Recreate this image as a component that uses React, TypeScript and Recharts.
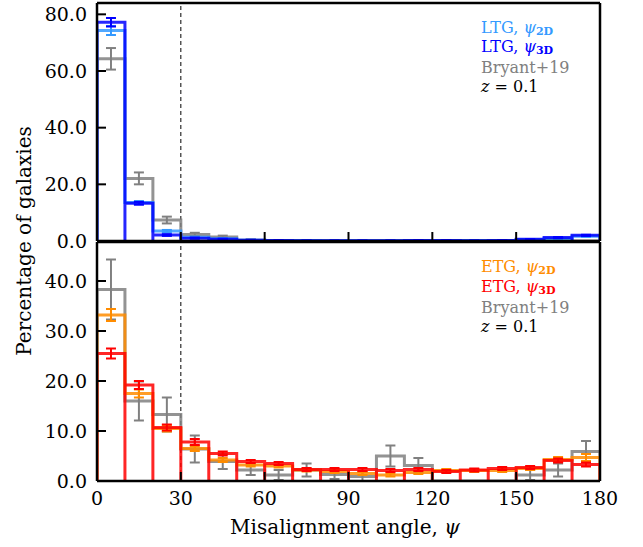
import { ComposedChart, Line, Scatter, ErrorBar, XAxis, YAxis, ReferenceLine } from 'recharts';

// bins of 10 degrees, 0-180
const BIN_STARTS = [0, 10, 20, 30, 40, 50, 60, 70, 80, 90, 100, 110, 120, 130, 140, 150, 160, 170];
const BIN_WIDTH = 10;
const X_TICKS = [0, 30, 60, 90, 120, 150, 180];
const TOP_Y_TICKS = [0, 20, 40, 60, 80];
const BOTTOM_Y_TICKS = [0, 10, 20, 30, 40];
const THRESHOLD = 30;

// LTG (top panel)
const ltg2d = [74.3, 13.6, 3.5, 1.3, 0.8, 0.3, 0.2, 0.2, 0.1, 0.1, 0.1, 0.2, 0.2, 0.2, 0.2, 0.5, 0.9, 1.7];
const ltg2dErr = [1.6, 0.5, 0.4, 0.2, 0.2, 0.1, 0.1, 0.1, 0.1, 0.1, 0.1, 0.1, 0.1, 0.1, 0.1, 0.1, 0.2, 0.2];
const ltg3d = [77.2, 13.3, 2.1, 1.0, 0.6, 0.3, 0.2, 0.1, 0.1, 0.1, 0.1, 0.2, 0.2, 0.1, 0.2, 0.6, 1.2, 2.0];
const ltg3dErr = [1.5, 0.5, 0.3, 0.2, 0.2, 0.1, 0.1, 0.1, 0.1, 0.1, 0.1, 0.1, 0.1, 0.1, 0.1, 0.1, 0.2, 0.2];
const ltgBryant = [64.3, 22.1, 7.4, 2.3, 1.4, 0.3, 0, 0, 0, 0, 0, 0, 0, 0, 0, 0, 0, 0];
const ltgBryantErr = [3.8, 2.1, 1.2, 0.6, 0.5, 0.3, 0, 0, 0, 0, 0, 0, 0, 0, 0, 0, 0, 0];

// ETG (bottom panel)
const etg2d = [33.2, 17.5, 10.5, 6.5, 4.2, 3.2, 3.0, 2.2, 1.9, 1.5, 1.2, 1.7, 2.1, 2.1, 2.1, 2.5, 4.3, 4.7];
const etg2dErr = [1.2, 0.8, 0.6, 0.5, 0.4, 0.3, 0.3, 0.3, 0.3, 0.3, 0.3, 0.3, 0.3, 0.3, 0.3, 0.3, 0.5, 0.7];
const etg3d = [25.5, 19.2, 10.7, 7.8, 5.5, 3.9, 3.5, 2.3, 2.3, 2.3, 2.1, 2.3, 1.9, 2.2, 2.5, 2.7, 4.1, 3.3];
const etg3dErr = [1.0, 0.8, 0.6, 0.6, 0.4, 0.3, 0.3, 0.3, 0.3, 0.3, 0.3, 0.3, 0.3, 0.3, 0.3, 0.3, 0.4, 0.4];
const etgBryant = [38.3, 16.0, 13.3, 6.4, 3.9, 2.2, 1.2, 2.2, 1.3, 0.9, 5.0, 3.1, 0, 0, 0, 1.2, 2.2, 5.9];
const etgBryantErr = [6.0, 3.9, 3.4, 2.7, 1.5, 1.0, 1.0, 1.3, 0.9, 0.9, 2.1, 1.5, 0, 0, 0, 1.0, 1.3, 2.1];

const FONT = '"DejaVu Serif", serif';
const TICK_LEN = 9;

// outline of a step histogram
function stepPoints(vals: number[]) {
  const pts = [{ x: BIN_STARTS[0], y: 0 }];
  vals.forEach((v, i) => {
    pts.push({ x: BIN_STARTS[i], y: v }, { x: BIN_STARTS[i] + BIN_WIDTH, y: v });
  });
  pts.push({ x: BIN_STARTS[vals.length - 1] + BIN_WIDTH, y: 0 });
  return pts;
}

// outlines of unfilled bars
function barPoints(vals: number[]) {
  return vals.flatMap((v, i) => [
    { x: BIN_STARTS[i], y: 0 },
    { x: BIN_STARTS[i], y: v },
    { x: BIN_STARTS[i] + BIN_WIDTH, y: v },
    { x: BIN_STARTS[i] + BIN_WIDTH, y: 0 },
  ]);
}

function errPoints(vals: number[], errs: number[]) {
  return vals
    .map((v, i) => ({ x: BIN_STARTS[i] + BIN_WIDTH / 2, y: v, err: errs[i] }))
    .filter((p) => p.y > 0);
}

const LeftTick = (props: any) => {
  const { x, y, payload } = props;
  return (
    <g>
      <line x1={x} y1={y} x2={x + TICK_LEN} y2={y} stroke="#000" strokeWidth={2} />
      <text x={x - 10} y={y} dy="0.35em" textAnchor="end" fontSize={19} fontFamily={FONT} fill="#000">
        {Number(payload.value).toFixed(1)}
      </text>
    </g>
  );
};
const RightTick = (props: any) => {
  const { x, y } = props;
  return <line x1={x} y1={y} x2={x - TICK_LEN} y2={y} stroke="#000" strokeWidth={2} />;
};
const TopTick = (props: any) => {
  const { x, y } = props;
  return <line x1={x} y1={y} x2={x} y2={y + TICK_LEN} stroke="#000" strokeWidth={2} />;
};
const BottomTick = (props: any) => {
  const { x, y, payload, showLabel } = props;
  return (
    <g>
      <line x1={x} y1={y} x2={x} y2={y - TICK_LEN} stroke="#000" strokeWidth={2} />
      {showLabel && (
        <text x={x} y={y + 17} dy="0.35em" textAnchor="middle" fontSize={19} fontFamily={FONT} fill="#000">
          {payload.value}
        </text>
      )}
    </g>
  );
};

type Series = { vals: number[]; errs: number[]; color: string; bars?: boolean };

function renderSeries(s: Series, key: string) {
  return [
    <Line
      key={key + '-line'}
      data={s.bars ? barPoints(s.vals) : stepPoints(s.vals)}
      dataKey="y"
      type="linear"
      stroke={s.color}
      strokeWidth={3}
      strokeOpacity={0.85}
      dot={false}
      activeDot={false}
      isAnimationActive={false}
    />,
    <Scatter
      key={key + '-err'}
      data={errPoints(s.vals, s.errs)}
      dataKey="y"
      fill="none"
      shape={() => <g />}
      isAnimationActive={false}
    >
      <ErrorBar dataKey="err" direction="y" width={5} stroke={s.color} strokeWidth={2} isAnimationActive={false} />
    </Scatter>,
  ];
}

function Panel({
  series,
  yMax,
  yTicks,
  height,
  margin,
  showX,
}: {
  series: Series[];
  yMax: number;
  yTicks: number[];
  height: number;
  margin: any;
  showX: boolean;
}) {
  const axisLine = { stroke: '#000', strokeWidth: 2.5 };
  return (
    <ComposedChart width={643} height={height} margin={margin}>
      <XAxis
        dataKey="x"
        type="number"
        domain={[0, 180]}
        ticks={X_TICKS}
        allowDataOverflow
        height={showX ? 30 : 1}
        axisLine={axisLine}
        tickLine={false}
        tickSize={0}
        tickMargin={0}
        tick={(p: any) => <BottomTick {...p} showLabel={showX} />}
      />
      <XAxis
        xAxisId="top"
        orientation="top"
        dataKey="x"
        type="number"
        domain={[0, 180]}
        ticks={X_TICKS}
        height={1}
        axisLine={axisLine}
        tickLine={false}
        tickSize={0}
        tickMargin={0}
        tick={TopTick}
      />
      <YAxis
        type="number"
        domain={[0, yMax]}
        ticks={yTicks}
        allowDataOverflow
        width={97}
        axisLine={axisLine}
        tickLine={false}
        tickSize={0}
        tickMargin={0}
        tick={LeftTick}
      />
      <YAxis
        yAxisId="right"
        orientation="right"
        type="number"
        domain={[0, yMax]}
        ticks={yTicks}
        width={1}
        axisLine={axisLine}
        tickLine={false}
        tickSize={0}
        tickMargin={0}
        tick={RightTick}
      />
      <ReferenceLine x={THRESHOLD} stroke="#000" strokeWidth={1} strokeDasharray="4 3" />
      {series.map((s, i) => renderSeries(s, 's' + i))}
    </ComposedChart>
  );
}

const legendStyle: any = {
  position: 'absolute',
  left: 481,
  fontFamily: FONT,
  fontSize: 16,
  lineHeight: '16px',
  whiteSpace: 'nowrap',
};

function Label({ top, color, text, sub }: { top: number; color: string; text: string; sub: string }) {
  return (
    <div style={{ ...legendStyle, top, color }}>
      {text}, <i>ψ</i>
      <span style={{ fontWeight: 'bold', fontSize: 11, lineHeight: '0px', position: 'relative', top: 2 }}>{sub}</span>
    </div>
  );
}

export default function App() {
  const top: Series[] = [
    { vals: ltgBryant, errs: ltgBryantErr, color: '#808080' },
    { vals: ltg2d, errs: ltg2dErr, color: '#3399ff' },
    { vals: ltg3d, errs: ltg3dErr, color: '#0000ff', bars: true },
  ];
  const bottom: Series[] = [
    { vals: etgBryant, errs: etgBryantErr, color: '#808080' },
    { vals: etg2d, errs: etg2dErr, color: '#ff8c00' },
    { vals: etg3d, errs: etg3dErr, color: '#ff0000', bars: true },
  ];
  return (
    <div style={{ position: 'absolute', left: 0, top: 0, width: 643, height: 547, background: '#fff' }}>
      <div style={{ position: 'absolute', left: 0, top: 0 }}>
        <Panel series={top} yMax={84} yTicks={TOP_Y_TICKS} height={260} margin={{ top: 2, right: 42, bottom: 18, left: 0 }} showX={false} />
      </div>
      <div style={{ position: 'absolute', left: 0, top: 241 }}>
        <Panel series={bottom} yMax={47.8} yTicks={BOTTOM_Y_TICKS} height={306} margin={{ top: 0, right: 42, bottom: 36, left: 0 }} showX={true} />
      </div>

      <Label top={20} color="#3399ff" text="LTG" sub="2D" />
      <Label top={39} color="#0000ff" text="LTG" sub="3D" />
      <div style={{ ...legendStyle, top: 60, color: '#808080' }}>Bryant+19</div>
      <div style={{ ...legendStyle, top: 79, color: '#000' }}>
        <i>z</i> = 0.1
      </div>

      <Label top={259} color="#ff8c00" text="ETG" sub="2D" />
      <Label top={279} color="#ff0000" text="ETG" sub="3D" />
      <div style={{ ...legendStyle, top: 300, color: '#808080' }}>Bryant+19</div>
      <div style={{ ...legendStyle, top: 319, color: '#000' }}>
        <i>z</i> = 0.1
      </div>

      <div
        style={{
          position: 'absolute',
          left: 24,
          top: 241,
          transform: 'translate(-50%, -50%) rotate(-90deg)',
          fontFamily: FONT,
          fontSize: 20,
          whiteSpace: 'nowrap',
        }}
      >
        Percentage of galaxies
      </div>
      <div
        style={{
          position: 'absolute',
          left: 345,
          top: 527,
          transform: 'translate(-50%, -50%)',
          fontFamily: FONT,
          fontSize: 20,
          whiteSpace: 'nowrap',
        }}
      >
        Misalignment angle, <i>ψ</i>
      </div>
    </div>
  );
}
